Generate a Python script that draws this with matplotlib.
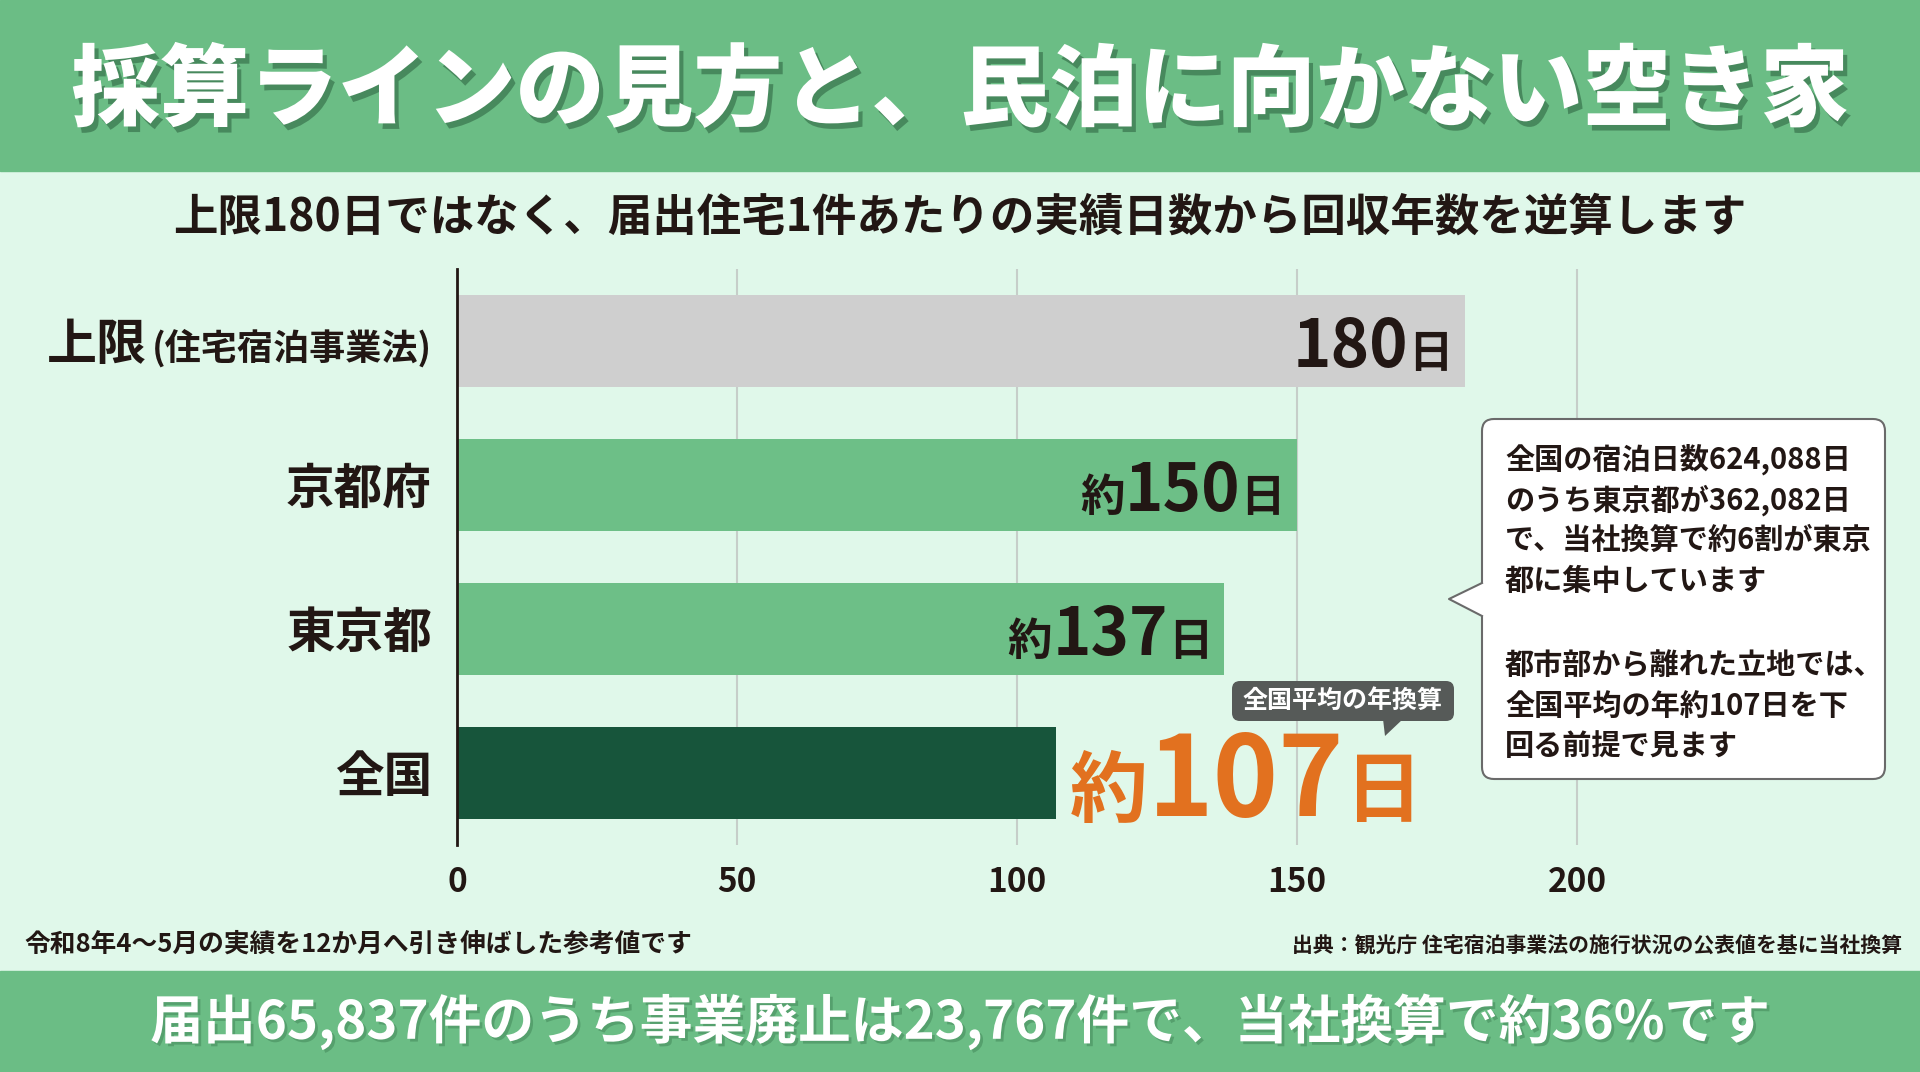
import matplotlib
matplotlib.use("Agg")
import matplotlib.pyplot as plt
import matplotlib.transforms as mtransforms
import matplotlib.patheffects as pe
from matplotlib.patches import Rectangle, FancyBboxPatch, Polygon
from matplotlib.lines import Line2D

plt.rcParams["font.family"] = ["Noto Sans CJK JP", "DejaVu Sans"]

# data
categories = ["上限", "京都府", "東京都", "全国"]
cat_notes = ["(住宅宿泊事業法)", "", "", ""]
days = [180, 150, 137, 107]
prefixes = ["", "約", "約", "約"]
xticks = [0, 50, 100, 150, 200]

title = "採算ラインの見方と、民泊に向かない空き家"
subtitle = "上限180日ではなく、届出住宅1件あたりの実績日数から回収年数を逆算します"
footer = "届出65,837件のうち事業廃止は23,767件で、当社換算で約36%です"
note_left = "令和8年4〜5月の実績を12か月へ引き伸ばした参考値です"
note_right = "出典：観光庁 住宅宿泊事業法の施行状況の公表値を基に当社換算"
tag_text = "全国平均の年換算"
callout_paras = [["全国の宿泊日数624,088日", "のうち東京都が362,082日",
                  "で、当社換算で約6割が東京", "都に集中しています"],
                 ["都市部から離れた立地では、", "全国平均の年約107日を下",
                  "回る前提で見ます"]]

DARK = "#221714"
BANNER = "#6bbd85"
MINT = "#e0f8ea"
bar_colors = ["#cfcfcf", "#6dbf87", "#6dbf87", "#17553b"]
ORANGE = "#e2711f"

W, H = 1920, 1072
fig = plt.figure(figsize=(W / 100, H / 100), dpi=100, facecolor=MINT)

bg = fig.add_axes([0, 0, 1, 1], zorder=0)
bg.set_xlim(0, W); bg.set_ylim(H, 0); bg.axis("off")
bg.add_patch(Rectangle((0, 0), W, 171, color=BANNER))
bg.add_patch(Rectangle((0, 971), W, 101, color=BANNER))

# main chart
ax = fig.add_axes([457 / W, (H - 845) / H, 1344 / W, 576 / H], zorder=1)
ax.patch.set_alpha(0)
ypos = list(range(len(categories)))
ax.barh(ypos, days, height=0.64, color=bar_colors, zorder=2)
ax.set_xlim(0, 240); ax.set_ylim(3.5, -0.5)
ax.set_xticks(xticks); ax.set_yticks([])
ax.tick_params(axis="x", length=0, pad=15, labelsize=24, labelcolor=DARK)
for lbl in ax.get_xticklabels():
    lbl.set_fontweight("bold")
ax.grid(axis="x", color="#c6cec9", lw=1.5, zorder=0)
for s in ["top", "right", "bottom"]:
    ax.spines[s].set_visible(False)
ax.spines["left"].set_linewidth(2)
ax.spines["left"].set_color(DARK)
ax.spines["left"].set_zorder(3)

runs = []


def run(x, y, parts, trans, dx, dy, align):
    # parts: (text, fontsize, colour, gap in px before it)
    ts, gaps = [], []
    for s, fs, c, g in parts:
        if not s:
            continue
        ts.append(ax.text(x, y, s, fontsize=fs, color=c, fontweight="bold",
                          va="baseline", ha="left", transform=trans, zorder=4))
        gaps.append(g)
    runs.append((ts, gaps, trans, dx, dy, align))


ylab = ax.get_yaxis_transform()
for i, (cat, note) in enumerate(zip(categories, cat_notes)):
    if note:
        parts = [(cat, 36, DARK, 0), (note, 26, DARK, 5)]
    else:
        parts = [(cat, 35, DARK, 0)]
    run(0, i, parts, ylab, -25, -19, "right")

for i, (v, p) in enumerate(zip(days, prefixes)):
    if i < 3:
        run(v, i, [(p, 32, DARK, 0), (str(v), 47, DARK, 0), ("日", 32, DARK, 0)],
            ax.transData, -12, -26, "right")
    else:
        run(v, i, [(p, 56, ORANGE, 0), (str(v), 80, ORANGE, 0), ("日", 56, ORANGE, 0)],
            ax.transData, 14, -43, "left")

# overlay: titles, callout, notes
ov = fig.add_axes([0, 0, 1, 1], zorder=5)
ov.set_xlim(0, W); ov.set_ylim(H, 0); ov.axis("off")

ov.text(W / 2, 92, title, fontsize=64, fontweight="heavy", color="white",
        ha="center", va="center",
        path_effects=[pe.withSimplePatchShadow(offset=(3, -4), shadow_rgbFace="#1d4a2e", alpha=0.45)])
ov.text(W / 2, 218, subtitle, fontsize=32, fontweight="bold", color=DARK,
        ha="center", va="center")
ov.text(W / 2, 1022, footer, fontsize=38, fontweight="bold", color="white",
        ha="center", va="center",
        path_effects=[pe.withSimplePatchShadow(offset=(2, -2), shadow_rgbFace="#2d6a42", alpha=0.35)])
ov.text(24, 944, note_left, fontsize=18.5, fontweight="bold", color=DARK,
        ha="left", va="center")
ov.text(1902, 946, note_right, fontsize=15, fontweight="bold", color=DARK,
        ha="right", va="center")

# tag above the national value
TAG = "#565a58"
ov.add_patch(FancyBboxPatch((1232, 681), 222, 40, boxstyle="round,pad=0,rounding_size=8",
                            fc=TAG, ec="none"))
ov.add_patch(Polygon([(1383, 719), (1403, 719), (1385, 736)], closed=True, fc=TAG, ec="none"))
ov.text(1343, 701, tag_text, fontsize=18, fontweight="bold", color="white",
        ha="center", va="center")

# callout box
EDGE = "#6a6a6a"
ov.add_patch(FancyBboxPatch((1482, 419), 403, 360, boxstyle="round,pad=0,rounding_size=12",
                            fc="white", ec=EDGE, lw=1.5))
ov.add_patch(Polygon([(1485, 582), (1449, 599), (1485, 617)], closed=True, fc="white", ec="none"))
ov.add_line(Line2D([1482, 1449, 1482], [583, 599, 616], color=EDGE, lw=1.5))
for top, para in zip([444, 650], callout_paras):
    for k, line in enumerate(para):
        ov.text(1505, top + k * 40.5, line, fontsize=21, fontweight="bold", color=DARK,
                ha="left", va="top")

# lay out the mixed-size label runs
fig.canvas.draw()
rend = fig.canvas.get_renderer()
for ts, gaps, trans, dx, dy, align in runs:
    widths = [t.get_window_extent(rend).width for t in ts]
    start = dx if align == "left" else dx - sum(widths) - sum(gaps)
    for t, w, g in zip(ts, widths, gaps):
        start += g
        t.set_transform(trans + mtransforms.ScaledTranslation(start / 100, dy / 100, fig.dpi_scale_trans))
        start += w

fig.savefig("out.png", dpi=100, facecolor=MINT)
